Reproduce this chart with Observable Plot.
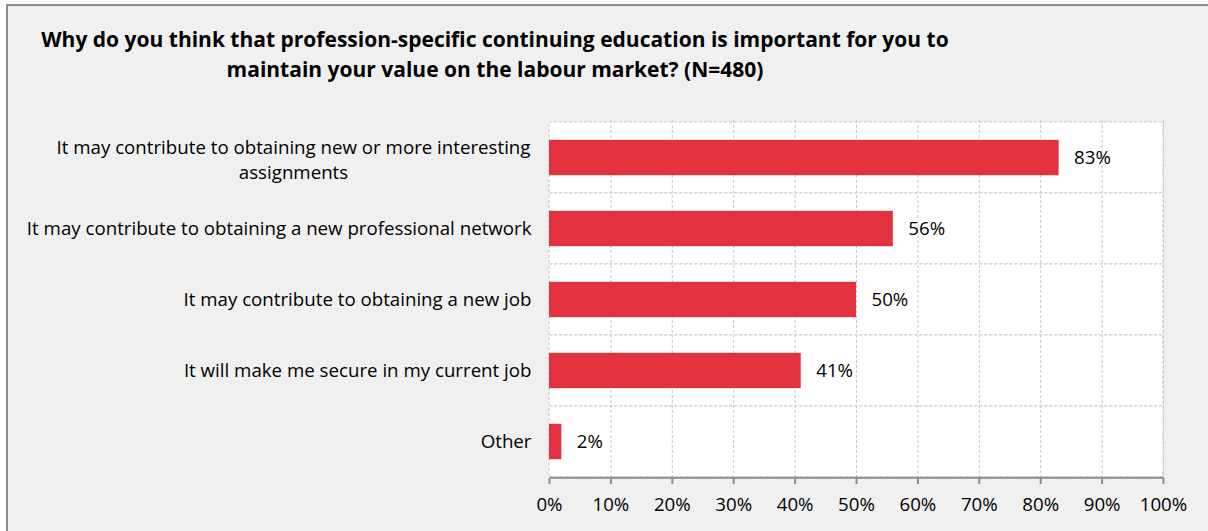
<!DOCTYPE html>
<html>
<head>
<meta charset="utf-8">
<script src="https://cdn.jsdelivr.net/npm/d3@7"></script>
<script src="https://cdn.jsdelivr.net/npm/@observablehq/plot@0.6"></script>
<style>
  body { margin: 0; background: #ffffff; }
  #wrap { position: relative; width: 1208px; height: 531px; overflow: hidden; }
  #box { position: absolute; left: 6px; top: 4px; width: 1300px; height: 700px; border: 2px solid #8c8c8c; background: #f0f0f0; box-sizing: border-box; }
  #title { position: absolute; left: 0; top: 24px; width: 990px; text-align: center; font-family: "Open Sans", sans-serif; font-weight: bold; font-size: 21px; line-height: 30px; color: #000; }
  #chart { position: absolute; left: 0; top: 105px; }
</style>
</head>
<body>
<div id="wrap">
  <div id="box"></div>
  <div id="title">Why do you think that profession-specific continuing education is important for you to<br>maintain your value on the labour market? (N=480)</div>
  <div id="chart"></div>
</div>
<script>
const categories = [
  "It may contribute to obtaining new or more interesting\nassignments",
  "It may contribute to obtaining a new professional network",
  "It may contribute to obtaining a new job",
  "It will make me secure in my current job",
  "Other"
];
const values = [83, 56, 50, 41, 2];
const xTicks = [0, 10, 20, 30, 40, 50, 60, 70, 80, 90, 100];

const data = categories.map((c, i) => ({category: c, value: values[i]}));

const W = 1208, H = 426, mt = 15, mb = 53, ml = 549, mr = 45;
const band = (H - mt - mb) / categories.length;
const barH = 36;
const inset = (band - barH) / 2;
const grid = "#c8c8c8";

const chart = Plot.plot({
  width: W,
  height: H,
  marginLeft: ml,
  marginRight: mr,
  marginTop: mt,
  marginBottom: mb,
  style: {fontFamily: "'Open Sans', sans-serif", fontSize: "18.7px", background: "transparent", color: "#000", overflow: "visible"},
  x: {domain: [0, 100], axis: null},
  y: {domain: categories, padding: 0, axis: null},
  marks: [
    Plot.barX(categories, {x1: 0, x2: 100, y: d => d, fill: "white", stroke: grid, strokeDasharray: "3,2"}),
    Plot.ruleX(xTicks.slice(1), {stroke: grid, strokeDasharray: "3,2"}),
    Plot.barX(data, {x: "value", y: "category", fill: "#e2323f", insetTop: inset, insetBottom: inset}),
    Plot.text(data, {x: "value", y: "category", text: d => d.value + "%", textAnchor: "start", dx: 15, fill: "#000"}),
    Plot.link([0], {x1: 0, x2: 100, y1: () => categories[categories.length - 1], y2: () => categories[categories.length - 1], dy: band / 2, stroke: "#8c8c8c", strokeWidth: 2}),
    Plot.axisX({ticks: xTicks, tickSize: 6, tickPadding: 13, stroke: "#8c8c8c", strokeWidth: 2, tickFormat: d => d + "%", fill: "#000", label: null}),
    Plot.axisY({tickSize: 0, tickPadding: 18, tickFormat: d => d === categories[0] ? "" : d, fill: "#000", label: null}),
    Plot.text([categories[0]], {x: () => 0, y: d => d, text: d => d, textAnchor: "middle", dx: -256, lineHeight: 1.34, fill: "#000"})
  ]
});
document.getElementById("chart").appendChild(chart);
</script>
</body>
</html>
